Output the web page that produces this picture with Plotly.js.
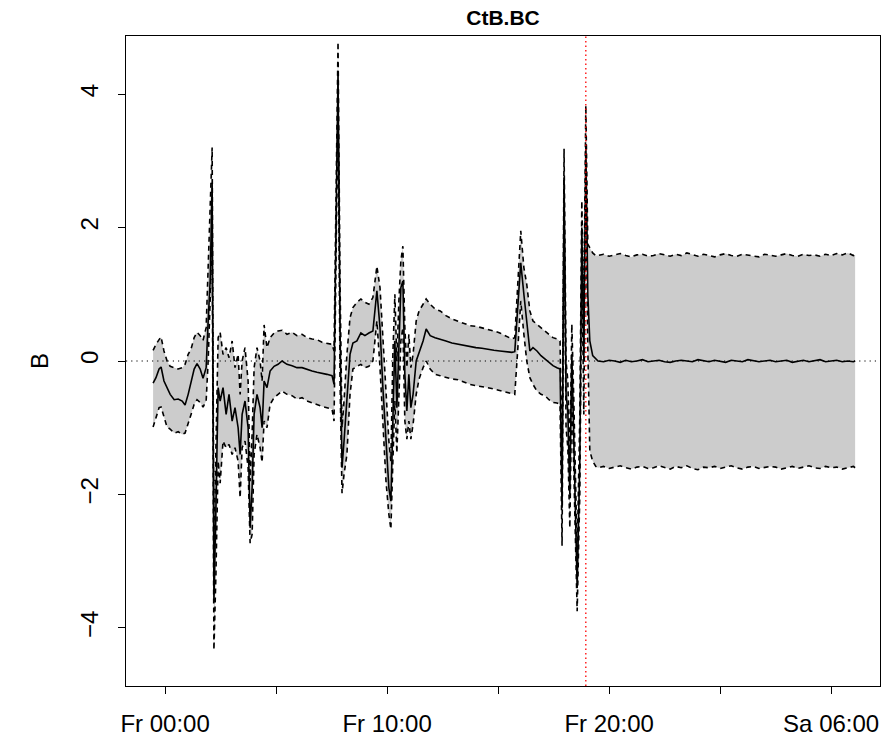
<!DOCTYPE html>
<html>
<head>
<meta charset="utf-8">
<script src="https://cdn.plot.ly/plotly-3.0.1.min.js"></script>
<style>html,body{margin:0;padding:0;background:#fff;}#chart{width:886px;height:751px;}</style>
</head>
<body>
<div id="chart"></div>
<script>
// hours since Fr 00:00
const hours = [
  -0.54,-0.41,-0.27,-0.18,-0.05,0.09,0.23,0.41,0.59,0.77,0.9,1.04,1.17,1.31,1.44,1.58,1.71,
  1.85,1.94,2.03,2.12,2.2,2.29,2.39,
  2.48,2.61,2.75,2.88,3.02,3.15,3.29,3.38,3.47,3.6,3.74,3.83,3.92,4.01,4.14,4.28,4.37,4.46,4.59,4.73,
  4.91,5.09,5.27,5.49,5.72,5.94,6.17,6.39,6.62,6.84,7.07,7.29,7.52,
  7.61,7.7,7.79,7.88,7.97,8.06,8.19,8.33,8.46,
  8.64,8.82,9.0,9.18,9.36,9.54,9.68,9.81,9.95,10.08,10.17,10.26,10.35,10.44,10.53,10.62,10.71,10.8,10.89,10.98,11.07,11.17,11.31,
  11.44,11.62,11.76,11.94,12.16,12.39,12.65,12.92,13.19,13.46,13.73,14.0,14.27,14.54,14.81,15.08,15.35,15.62,
  15.75,15.89,16.02,16.16,16.29,16.43,16.57,16.75,16.93,17.11,17.29,17.47,17.65,17.79,
  17.88,17.97,18.06,18.14,18.23,18.32,18.41,18.56,18.68,18.77,18.86,18.95,19.04,19.13,19.26,19.4,
  19.5,19.75,20,20.25,20.5,20.75,21,21.25,21.5,21.75,22,22.25,22.5,22.75,23,23.25,23.5,23.75,24,24.25,24.5,24.75,25,25.25,
  25.5,25.75,26,26.25,26.5,26.75,27,27.25,27.5,27.75,28,28.25,28.5,28.75,29,29.25,29.5,29.75,30,30.25,30.5,30.75,31,31.08
];
const center = [
  -0.33,-0.25,-0.12,-0.09,-0.3,-0.39,-0.5,-0.58,-0.57,-0.6,-0.66,-0.5,-0.3,-0.12,-0.04,-0.12,-0.26,
  -0.1,0.6,1.2,2.67,-3.6,-2.2,-0.4,
  -0.6,-0.4,-0.8,-0.5,-0.9,-0.7,-1.0,-1.4,-0.8,-0.6,-1.0,-2.5,-1.9,-0.8,-0.5,-0.7,-1.0,-0.3,-0.4,-0.15,
  -0.08,-0.05,0.0,-0.05,-0.07,-0.1,-0.1,-0.13,-0.15,-0.17,-0.18,-0.2,-0.22,
  -0.35,2.0,4.35,0.5,-1.6,-1.2,-0.6,0.1,0.27,
  0.3,0.42,0.38,0.42,0.45,1.05,0.5,-0.4,-1.2,-1.9,-2.1,-0.8,0.3,-0.7,0.2,1.1,1.2,-0.2,-0.75,-0.2,-0.7,-0.5,0.0,
  0.12,0.3,0.48,0.38,0.35,0.33,0.3,0.27,0.25,0.23,0.22,0.2,0.19,0.17,0.16,0.15,0.14,0.13,
  0.14,0.8,1.47,1.0,0.6,0.15,0.2,0.15,0.08,0.03,-0.03,-0.07,-0.1,-0.12,
  -2.2,2.75,-0.5,-0.75,-2.0,0.1,-1.2,-3.4,-1.5,2.0,0.0,3.25,1.0,0.3,0.08,0.03,
  0.0,-0.01,0.01,0.0,-0.02,0.01,-0.01,0.0,0.02,-0.01,0.0,0.01,-0.01,-0.02,0.0,0.01,0.0,-0.01,0.02,0.0,-0.01,0.01,0.0,-0.02,
  0.01,0.0,-0.01,0.02,0.01,-0.01,0.0,0.01,-0.01,0.0,0.01,-0.02,0.0,0.01,-0.01,0.0,0.02,-0.01,0.0,0.01,-0.01,0.0,-0.01,0.0
];
const upper = [
  0.16,0.25,0.32,0.36,0.15,0.0,-0.08,-0.1,-0.12,-0.1,-0.05,0.1,0.18,0.35,0.43,0.38,0.31,
  0.5,1.5,2.18,3.2,-2.8,-1.3,0.35,
  0.43,0.1,0.2,0.05,0.3,-0.1,0.1,-0.5,0.0,0.2,-0.3,-1.8,-1.1,-0.1,0.2,0.0,-0.3,0.54,0.2,0.35,
  0.42,0.45,0.46,0.4,0.43,0.38,0.4,0.35,0.33,0.32,0.28,0.27,0.25,
  0.15,2.6,4.78,1.2,-1.0,-0.6,0.1,0.65,0.8,
  0.88,0.93,0.88,0.85,0.95,1.42,1.1,0.3,-0.5,-1.2,-1.5,0.1,1.0,0.0,0.9,1.5,1.72,0.5,-0.1,0.4,-0.1,0.1,0.6,
  0.75,0.85,0.93,0.85,0.78,0.75,0.68,0.63,0.6,0.57,0.53,0.52,0.5,0.48,0.45,0.42,0.38,0.33,
  0.35,1.2,1.95,1.4,1.15,0.75,0.6,0.55,0.5,0.45,0.4,0.35,0.33,0.3,
  -1.7,3.18,0.0,-0.3,-1.5,0.55,-0.6,-2.9,-0.8,2.4,0.7,3.83,1.75,1.7,1.62,1.58,
  1.58,1.6,1.57,1.59,1.61,1.58,1.56,1.59,1.6,1.57,1.58,1.61,1.59,1.57,1.6,1.58,1.62,1.59,1.57,1.6,1.58,1.56,1.59,1.61,
  1.58,1.57,1.6,1.59,1.58,1.56,1.6,1.58,1.57,1.59,1.61,1.58,1.57,1.6,1.58,1.59,1.57,1.6,1.58,1.61,1.59,1.62,1.58,1.59
];
const lower = [
  -0.99,-0.85,-0.7,-0.69,-0.85,-0.99,-1.02,-1.08,-1.06,-1.1,-1.08,-0.95,-0.8,-0.65,-0.58,-0.62,-0.69,
  -0.6,0.0,0.9,1.9,-4.33,-3.2,-1.5,
  -1.83,-1.2,-1.3,-1.25,-1.4,-1.3,-1.5,-2.05,-1.3,-1.2,-1.6,-2.73,-2.6,-1.4,-1.1,-1.3,-1.52,-0.9,-1.0,-0.65,
  -0.55,-0.5,-0.45,-0.5,-0.52,-0.57,-0.55,-0.6,-0.63,-0.66,-0.68,-0.7,-0.72,
  -0.9,1.4,3.9,-0.3,-1.98,-1.7,-1.4,-0.5,-0.12,
  -0.08,-0.05,-0.1,-0.08,0.0,0.6,-0.1,-1.0,-1.8,-2.3,-2.52,-1.5,-0.6,-1.38,-0.5,0.3,0.5,-0.9,-1.17,-0.9,-1.17,-0.95,-0.5,
  -0.27,-0.1,0.0,-0.12,-0.2,-0.22,-0.25,-0.27,-0.28,-0.32,-0.35,-0.37,-0.38,-0.4,-0.42,-0.44,-0.46,-0.48,
  -0.5,0.2,0.9,0.4,0.0,-0.25,-0.35,-0.45,-0.5,-0.52,-0.58,-0.62,-0.63,-0.65,
  -2.77,2.3,-1.0,-1.3,-2.5,-0.4,-1.7,-3.75,-2.0,1.5,-0.8,2.6,0.2,-1.35,-1.5,-1.58,
  -1.6,-1.58,-1.61,-1.59,-1.57,-1.6,-1.62,-1.59,-1.58,-1.61,-1.6,-1.57,-1.59,-1.62,-1.58,-1.6,-1.57,-1.61,-1.63,-1.59,-1.6,-1.58,-1.61,-1.59,
  -1.57,-1.6,-1.62,-1.59,-1.58,-1.61,-1.6,-1.58,-1.59,-1.62,-1.6,-1.58,-1.61,-1.59,-1.57,-1.6,-1.61,-1.58,-1.6,-1.59,-1.62,-1.6,-1.58,-1.6
];
const tickHours = [0,5,10,15,20,25,30];
const tickLabels = ['Fr 00:00','','Fr 10:00','','Fr 20:00','','Sa 06:00'];
const yTicks = [-4,-2,0,2,4];
const eventHour = 18.95;
const chartTitle = 'CtB.BC';
const yTitle = 'B';

const FONT = 'Liberation Sans, Arial, Helvetica, sans-serif';
const traces = [
  {x: hours, y: lower, mode: 'lines', line: {width: 0}, hoverinfo: 'skip', showlegend: false},
  {x: hours, y: upper, mode: 'lines', line: {width: 0}, fill: 'tonexty', fillcolor: '#cccccc', hoverinfo: 'skip', showlegend: false},
  {x: hours, y: center, mode: 'lines', line: {color: '#000', width: 1.6}, showlegend: false},
  {x: hours, y: upper, mode: 'lines', line: {color: '#000', width: 1.6, dash: '5px,4px'}, showlegend: false},
  {x: hours, y: lower, mode: 'lines', line: {color: '#000', width: 1.6, dash: '5px,4px'}, showlegend: false}
];
const layout = {
  width: 886, height: 751,
  margin: {l: 126, r: 6, t: 36, b: 65},
  paper_bgcolor: '#fff', plot_bgcolor: '#fff',
  font: {family: FONT, size: 24, color: '#000'},
  title: {text: '<b>' + chartTitle + '</b>', font: {family: FONT, size: 21, color: '#000'},
          x: 0.5, xref: 'paper', y: 1 - 18/751, yref: 'container', yanchor: 'middle'},
  xaxis: {range: [-1.76, 32.2], tickvals: tickHours, ticktext: tickLabels,
          ticks: 'outside', ticklen: 7, tickwidth: 1, tickcolor: '#000',
          showline: true, linecolor: '#000', linewidth: 1, mirror: true,
          showgrid: false, zeroline: false, ticklabelstandoff: 9,
          tickfont: {family: FONT, size: 24, color: '#000'}},
  yaxis: {range: [-4.87, 4.87], tickvals: yTicks, tickangle: -90,
          ticks: 'outside', ticklen: 7, tickwidth: 1, tickcolor: '#000',
          showline: true, linecolor: '#000', linewidth: 1, mirror: true,
          showgrid: false, zeroline: false, ticklabelstandoff: 10,
          tickfont: {family: FONT, size: 24, color: '#000'},
          title: {text: yTitle, font: {family: FONT, size: 24, color: '#000'}, standoff: 21}},
  shapes: [
    {type: 'line', xref: 'paper', x0: 0, x1: 1, yref: 'y', y0: 0, y1: 0, layer: 'above',
     line: {color: '#000', width: 1, dash: '1.2px,4px'}},
    {type: 'line', xref: 'x', x0: eventHour, x1: eventHour, yref: 'paper', y0: 0, y1: 1, layer: 'above',
     line: {color: '#ff0000', width: 1.3, dash: '1.5px,3px'}}
  ],
  showlegend: false
};
Plotly.newPlot('chart', traces, layout, {displayModeBar: false, staticPlot: true});
</script>
</body>
</html>
